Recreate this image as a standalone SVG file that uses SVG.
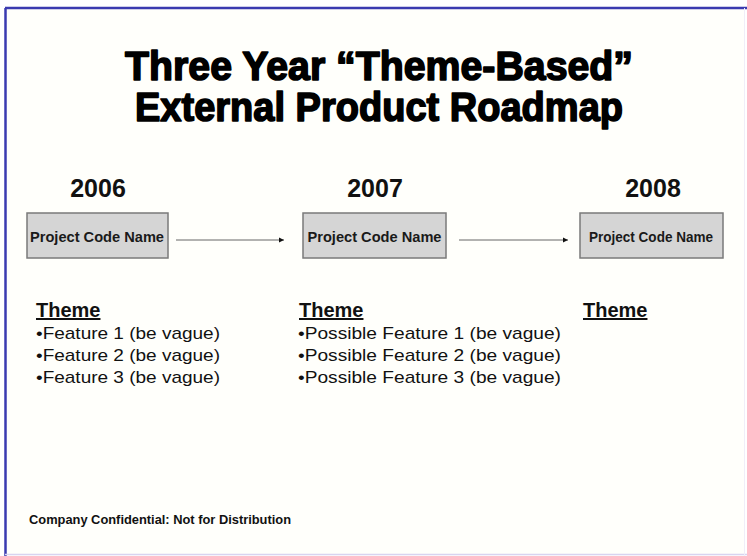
<svg xmlns="http://www.w3.org/2000/svg" width="747" height="556" viewBox="0 0 747 556">
<style>
.title{font-family:"Liberation Sans",Arial,sans-serif;font-weight:bold;font-size:40px;fill:#000;stroke:#000;stroke-width:1.6px;stroke-linejoin:round}
.year{font-family:"Liberation Sans",Arial,sans-serif;font-weight:bold;font-size:25px;fill:#111}
.box{fill:#d5d5d5;stroke:#7a7a7a;stroke-width:1.5}
.boxtxt{font-family:"Liberation Sans",Arial,sans-serif;font-weight:bold;font-size:14px;fill:#1a1a1a}
.theme{font-family:"Liberation Sans",Arial,sans-serif;font-weight:bold;font-size:20px;fill:#111;text-decoration:underline}
.feat{font-family:"Liberation Sans",Arial,sans-serif;font-size:17px;fill:#111}
.foot{font-family:"Liberation Sans",Arial,sans-serif;font-weight:bold;font-size:12px;fill:#111}
.conn{stroke:#666;stroke-width:1;fill:none}
</style>
<defs>
<marker id="ah" markerWidth="6" markerHeight="6" refX="5" refY="3" orient="auto" markerUnits="userSpaceOnUse">
<path d="M0,0.5 L5,3 L0,5.5 Z" fill="#111"/>
</marker>
</defs>
<rect x="0" y="0" width="747" height="556" fill="#ffffff"/>
<rect x="5" y="8" width="740" height="546" fill="#fffffb"/>
<line x1="5" y1="8" x2="747" y2="8" stroke="#3a3ab0" stroke-width="2.5"/>
<line x1="5.5" y1="8" x2="5.5" y2="556" stroke="#3a3ab0" stroke-width="2.5"/>
<line x1="5" y1="554.5" x2="747" y2="554.5" stroke="#d8d4f0" stroke-width="1.5"/>
<line x1="744.5" y1="8" x2="744.5" y2="556" stroke="#f0eef8" stroke-width="1"/>
<g id="title">
<text class="title" x="379" y="80" text-anchor="middle" textLength="508" lengthAdjust="spacingAndGlyphs">Three Year “Theme-Based”</text>
<text class="title" x="379" y="121" text-anchor="middle" textLength="488" lengthAdjust="spacingAndGlyphs">External Product Roadmap</text>
</g>
<g id="connectors">
<line class="conn" x1="176" y1="240" x2="284" y2="240" marker-end="url(#ah)"/>
<line class="conn" x1="459" y1="240" x2="568" y2="240" marker-end="url(#ah)"/>
</g>
<g id="node-2006">
<text class="year" x="98" y="197" text-anchor="middle">2006</text>
<rect class="box" x="27" y="213" width="141" height="45"/>
<text class="boxtxt" x="97" y="242" text-anchor="middle" textLength="134" lengthAdjust="spacingAndGlyphs">Project Code Name</text>
</g>
<g id="node-2007">
<text class="year" x="375" y="197" text-anchor="middle">2007</text>
<rect class="box" x="303" y="213" width="143" height="45"/>
<text class="boxtxt" x="374.5" y="242" text-anchor="middle" textLength="134" lengthAdjust="spacingAndGlyphs">Project Code Name</text>
</g>
<g id="node-2008">
<text class="year" x="653" y="197" text-anchor="middle">2008</text>
<rect class="box" x="580" y="213" width="143" height="45"/>
<text class="boxtxt" x="651" y="242" text-anchor="middle" textLength="124" lengthAdjust="spacingAndGlyphs">Project Code Name</text>
</g>
<g id="themes-2006">
<text class="theme" x="36" y="317">Theme</text>
<text class="feat" x="36" y="339" textLength="184" lengthAdjust="spacingAndGlyphs">•Feature 1 (be vague)</text>
<text class="feat" x="36" y="361" textLength="184" lengthAdjust="spacingAndGlyphs">•Feature 2 (be vague)</text>
<text class="feat" x="36" y="383" textLength="184" lengthAdjust="spacingAndGlyphs">•Feature 3 (be vague)</text>
</g>
<g id="themes-2007">
<text class="theme" x="299" y="317">Theme</text>
<text class="feat" x="298" y="339" textLength="263" lengthAdjust="spacingAndGlyphs">•Possible Feature 1 (be vague)</text>
<text class="feat" x="298" y="361" textLength="263" lengthAdjust="spacingAndGlyphs">•Possible Feature 2 (be vague)</text>
<text class="feat" x="298" y="383" textLength="263" lengthAdjust="spacingAndGlyphs">•Possible Feature 3 (be vague)</text>
</g>
<g id="themes-2008">
<text class="theme" x="583" y="317">Theme</text>
</g>
<g id="footer">
<text class="foot" x="29" y="524" textLength="262" lengthAdjust="spacingAndGlyphs">Company Confidential: Not for Distribution</text>
</g>
</svg>
